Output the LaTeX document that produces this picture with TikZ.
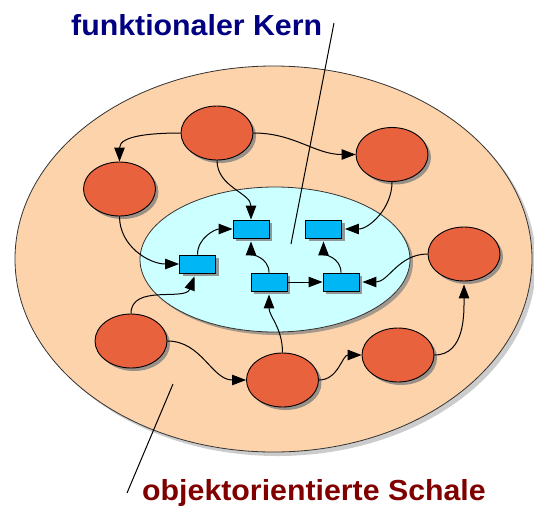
\documentclass[tikz,border=0pt]{standalone}
\usepackage{fontspec}
\setmainfont{Liberation Sans}
\newfontfamily\lblfont[FakeStretch=1.045]{Liberation Sans}
\usetikzlibrary{shapes.geometric,arrows.meta,shadows}
\definecolor{peach}{HTML}{FDD3AB}
\definecolor{objred}{HTML}{E8623E}
\definecolor{kernfill}{HTML}{CCFFFF}
\definecolor{boxblue}{HTML}{00B6F4}
\definecolor{navytext}{HTML}{000080}
\definecolor{redtext}{HTML}{800000}
\tikzset{
  shd/.style={drop shadow={shadow xshift=3pt,shadow yshift=-3pt,fill=black!50,opacity=.8}},
  shell/.style={ellipse,draw=black!80,line width=0.8pt,fill=peach,inner sep=0,
     minimum width=517pt,minimum height=386pt,
     drop shadow={shadow xshift=4pt,shadow yshift=-4pt,fill=black!40,opacity=.5}},
  kern/.style={ellipse,draw=black!80,line width=0.8pt,fill=kernfill,inner sep=0,
     minimum width=270pt,minimum height=145pt,
     drop shadow={shadow xshift=3pt,shadow yshift=-3pt,fill=black!50,opacity=.7}},
  obj/.style={ellipse,draw=black,line width=0.9pt,fill=objred,inner sep=0,
     minimum width=72pt,minimum height=54pt,shd},
  fn/.style={rectangle,draw=black,line width=0.9pt,fill=boxblue,inner sep=0,
     minimum width=36pt,minimum height=18pt,shd},
  conn/.style={draw=black,line width=1pt,-{Triangle[length=14pt,width=10.5pt]}},
  intoshadow/.style={shorten >=3pt},
  leader/.style={draw=black,line width=1pt},
  lbl/.style={font=\lblfont\bfseries\fontsize{29}{34}\selectfont,inner sep=0}
}
\begin{document}
\begin{tikzpicture}[x=1pt,y=-1pt]
\useasboundingbox (0,0) rectangle (534,509);
\node[shell] (shell) at (273.5,259) {};
\node[kern] (core) at (275,259.5) {};
% objects of the shell
\node[obj] (c1) at (217,133) {};
\node[obj] (c2) at (392,154.5) {};
\node[obj] (c3) at (119.5,189) {};
\node[obj] (c4) at (464,254) {};
\node[obj] (c5) at (131,341) {};
\node[obj] (c6) at (282.5,380) {};
\node[obj] (c7) at (398,355) {};
% functions of the core
\node[fn] (b1) at (251,229) {};
\node[fn] (b2) at (323.5,229) {};
\node[fn] (b3) at (197.5,264) {};
\node[fn] (b4) at (269,282) {};
\node[fn] (b5) at (341,282) {};
% connectors
\draw[conn] (c1.west) to[out=180,in=90] (c3.north);
\draw[conn] (c1.east) to[out=0,in=180] (c2.west);
\draw[conn] (c1.south) to[out=-90,in=90] (b1.north);
\draw[conn,intoshadow] (c2.south) to[out=-90,in=0] (b2.east);
\draw[conn] (c3.south) to[out=-90,in=180] (b3.west);
\draw[conn] (b3.north) to[out=90,in=180] (b1.west);
\draw[conn,intoshadow] (c5.north) to[out=90,in=-110] ([xshift=-2pt]b3.south);
\draw[conn,intoshadow] (b4.north) to[out=90,in=-90] (b1.south);
\draw[conn] (b4.east) -- (b5.west);
\draw[conn,intoshadow] (b5.north) to[out=90,in=-90] (b2.south);
\draw[conn,intoshadow] (c4.west) to[out=180,in=0] (b5.east);
\draw[conn,intoshadow] (c6.north) to[out=90,in=-90] (b4.south);
\draw[conn] (c5.east) to[out=0,in=180] (c6.west);
\draw[conn] (c6.east) to[out=0,in=180] (c7.west);
\draw[conn,intoshadow] (c7.east) to[out=0,in=-90] (c4.south);
% labels
\node[lbl,text=navytext,anchor=base west] (kernlbl) at (71,35) {funktionaler Kern};
\node[lbl,text=redtext,anchor=base west] (schalelbl) at (142,500) {objektorientierte Schale};
\coordinate (kt) at (334,23);
\coordinate (kb) at (291,244);
\coordinate (st) at (173,384);
\coordinate (sb) at (127,493);
\draw[leader] (kt) -- (kb);
\draw[leader] (st) -- (sb);
\end{tikzpicture}
\end{document}
